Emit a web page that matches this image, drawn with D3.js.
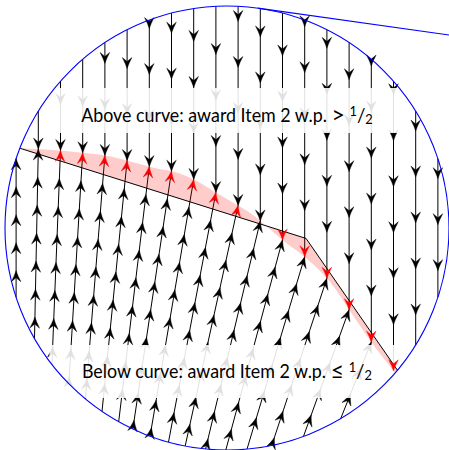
<!DOCTYPE html>
<html>
<head>
<meta charset="utf-8">
<script src="https://cdn.jsdelivr.net/npm/d3@7"></script>
<style>
  html, body { margin: 0; padding: 0; background: #fff; }
  svg { display: block; }
</style>
</head>
<body>
<svg id="chart" width="449" height="450"></svg>
<script>
// ---- Data (unit-disk coordinates) ----------------------------------------

// x positions of the streamline columns
const columnX = [-0.95, -0.85, -0.75, -0.65, -0.55, -0.45, -0.35, -0.25, -0.15, -0.05,
                  0.05,  0.15,  0.25,  0.35,  0.45,  0.55,  0.65,  0.75,  0.85,  0.95];

// tilt (horizontal drift per unit of rise) of the upward flow below the curve, per column
const lowerTilt = [0.00, 0.02, 0.04, 0.06, 0.08, 0.10, 0.12, 0.15, 0.17, 0.19,
                   0.22, 0.24, 0.27, 0.30, 0.33, 0.36, 0.40, 0.45];

// piecewise-linear allocation cutoff
const cutoffLine = [[-0.932, 0.359], [0.356, -0.047], [0.768, -0.641]];

// smooth boundary where the two flows meet
const boundaryCurve = [
  [-0.932, 0.359], [-0.842, 0.355], [-0.752, 0.349], [-0.662, 0.340], [-0.550, 0.327],
  [-0.459, 0.306], [-0.324, 0.270], [-0.234, 0.252], [-0.144, 0.216], [-0.054, 0.162],
  [0.023, 0.117], [0.104, 0.068], [0.171, 0.014], [0.261, -0.063], [0.356, -0.135],
  [0.464, -0.243], [0.554, -0.374], [0.653, -0.518], [0.757, -0.652]
];

// tangent point of the supporting line, degrees clockwise from the top of the disk
const tangentAngle = 8;

// region labels
const labelText = ["Above curve: award Item 2 w.p.", "Below curve: award Item 2 w.p."];
const labelRelation = [">", "\u2264"];
const labelFraction = ["1", "2"];

// ---- Layout ---------------------------------------------------------------
const W = 449, H = 450;
const x = d3.scaleLinear().domain([-1, 1]).range([5, 449]);
const y = d3.scaleLinear().domain([-1, 1]).range([450, 6]);
const px = d => [x(d[0]), y(d[1])];
const unit = x(1) - x(0);                 // pixels per data unit

const spacingUpper = 46 / unit;           // arrow spacing on the downward flow
const spacingLower = 28 / unit;           // arrow spacing on the upward flow
const edgeGap = 6 / unit;
const arrowLen = 11, arrowHalf = 4.8, arrowInset = 7;

const labelLayout = [
  { baseline: (228 - 122) / unit, box: [-0.80, (228 - 88) / unit, 0.80, (228 - 133) / unit] },
  { baseline: (228 - 378) / unit, box: [-0.80, (228 - 345) / unit, 0.80, (228 - 398) / unit] }
];
const labelWidth = 292;
const fontSize = 18.5;
const fontFamily = "Lato, 'DejaVu Sans', sans-serif";

const svg = d3.select("#chart");

// ---- Boundary sampling ------------------------------------------------------
const smoothGen = d3.line().x(d => x(d[0])).y(d => y(d[1])).curve(d3.curveCatmullRom.alpha(0.5));
const straightGen = d3.line().x(d => x(d[0])).y(d => y(d[1]));

const probe = svg.append("path").attr("d", smoothGen(boundaryCurve)).attr("fill", "none");
const probeNode = probe.node();
const probeLen = probeNode.getTotalLength();
const boundarySamples = d3.range(0, 1201).map(i => {
  const p = probeNode.getPointAtLength(probeLen * i / 1200);
  return [x.invert(p.x), y.invert(p.y)];
});
probe.remove();

function boundaryY(xd) {
  for (let i = 1; i < boundarySamples.length; i++) {
    const a = boundarySamples[i - 1], b = boundarySamples[i];
    if ((a[0] - xd) * (b[0] - xd) <= 0 && a[0] !== b[0]) {
      const t = (xd - a[0]) / (b[0] - a[0]);
      return a[1] + t * (b[1] - a[1]);
    }
  }
  return null;
}

// region between the smooth boundary and the cutoff
const bandPolygon = boundarySamples.map(px).concat(cutoffLine.slice().reverse().map(px));

const xStart = boundaryCurve[0][0];
const xEnd = boundaryCurve[boundaryCurve.length - 1][0];

// ---- Streamlines -------------------------------------------------------------
const lines = [];
const arrows = [];   // tip (data) + direction (data)

columnX.forEach((cx, k) => {
  const top = Math.sqrt(1 - cx * cx);

  // downward flow above the boundary
  if (cx >= xStart) {
    const onBoundary = cx <= xEnd;
    const bottom = onBoundary ? boundaryY(cx) : -top;
    lines.push([[cx, top], [cx, bottom]]);
    if (onBoundary) {
      for (let s = bottom; s <= top - edgeGap; s += spacingUpper) arrows.push({ tip: [cx, s], dir: [0, -1] });
    } else {
      for (let s = top - 20 / unit; s >= bottom + edgeGap; s -= spacingUpper) arrows.push({ tip: [cx, s], dir: [0, -1] });
    }
  }

  // upward flow below the boundary
  if (k < lowerTilt.length && cx <= xEnd) {
    const ey = cx < xStart ? top : boundaryY(cx);
    let vx = -lowerTilt[k], vy = -1;
    const n = Math.hypot(vx, vy); vx /= n; vy /= n;
    const b = cx * vx + ey * vy, c = cx * cx + ey * ey - 1;
    const len = -b + Math.sqrt(Math.max(0, b * b - c));
    if (len < arrowLen / unit) return;
    lines.push([[cx + len * vx, ey + len * vy], [cx, ey]]);
    for (let d = 0; d <= len - edgeGap; d += spacingLower) {
      arrows.push({ tip: [cx + d * vx, ey + d * vy], dir: [-vx, -vy] });
    }
  }
});

// classify arrowheads: red where the arrow body sits inside the band
arrows.forEach(a => {
  const t = px(a.tip);
  const ang = Math.atan2(-a.dir[1], a.dir[0]);
  a.px = t; a.ang = ang * 180 / Math.PI;
  const mid = [t[0] - 5.5 * Math.cos(ang), t[1] - 5.5 * Math.sin(ang)];
  a.inBand = d3.polygonContains(bandPolygon, mid);
});

const arrowPath = `M0,0 Q-5,-1.6 -${arrowLen},-${arrowHalf} L-${arrowInset},0 L-${arrowLen},${arrowHalf} Q-5,1.6 0,0 Z`;

// ---- Drawing ------------------------------------------------------------------
const gLines = svg.append("g");
gLines.selectAll("path").data(lines).join("path")
  .attr("d", d => straightGen(d))
  .attr("fill", "none").attr("stroke", "#000").attr("stroke-width", 1);

function drawArrows(sel, data, color) {
  sel.selectAll("path").data(data).join("path")
    .attr("d", arrowPath)
    .attr("transform", d => `translate(${d.px[0]},${d.px[1]}) rotate(${d.ang})`)
    .attr("fill", color).attr("stroke", color).attr("stroke-width", 0.4)
    .attr("stroke-linejoin", "round");
}
drawArrows(svg.append("g"), arrows.filter(a => !a.inBand), "#000");

// label backdrops
svg.append("g").selectAll("rect").data(labelLayout).join("rect")
  .attr("x", d => x(d.box[0])).attr("y", d => y(d.box[1]))
  .attr("width", d => x(d.box[2]) - x(d.box[0]))
  .attr("height", d => y(d.box[3]) - y(d.box[1]))
  .attr("fill", "#fff").attr("fill-opacity", 0.88);

// band between cutoff and boundary
svg.append("path")
  .attr("d", "M" + bandPolygon.map(p => p.join(",")).join("L") + "Z")
  .attr("fill", "red").attr("fill-opacity", 0.2).attr("fill-rule", "nonzero");

// cutoff
svg.append("path").attr("d", straightGen(cutoffLine))
  .attr("fill", "none").attr("stroke", "#000").attr("stroke-width", 1);

drawArrows(svg.append("g"), arrows.filter(a => a.inBand), "red");

// disk and supporting line
svg.append("circle").attr("cx", x(0)).attr("cy", y(0)).attr("r", unit)
  .attr("fill", "none").attr("stroke", "blue").attr("stroke-width", 1.1);

const th = tangentAngle * Math.PI / 180;
const tp = [Math.sin(th), Math.cos(th)];
const td = [Math.cos(th), -Math.sin(th)];
svg.append("path")
  .attr("d", straightGen([tp, [tp[0] + 1.5 * td[0], tp[1] + 1.5 * td[1]]]))
  .attr("fill", "none").attr("stroke", "blue").attr("stroke-width", 1.1);

// labels (horizontally condensed to the measured width)
const gText = svg.append("g");
function buildLabel(i, fs) {
  const g = gText.append("g");
  const t = g.append("text")
    .attr("x", 0).attr("y", y(labelLayout[i].baseline))
    .attr("text-anchor", "middle")
    .attr("font-family", fontFamily).attr("font-size", fs).attr("fill", "#000")
    .style("white-space", "pre");
  t.append("tspan").text(labelText[i] + " ");
  t.append("tspan").attr("font-size", fs * 1.3).attr("dy", fs * 0.04).text(labelRelation[i]);
  t.append("tspan").attr("dy", -fs * 0.04).text(" ");
  t.append("tspan").attr("font-size", fs * 0.72).attr("dy", -fs * 0.32).text(labelFraction[0]);
  t.append("tspan").attr("font-size", fs * 1.05).attr("dy", fs * 0.32).text("/");
  t.append("tspan").attr("font-size", fs * 0.72).attr("dy", fs * 0.1).text(labelFraction[1]);
  return g;
}
const probeLabel = buildLabel(0, fontSize);
const squeeze = labelWidth / probeLabel.select("text").node().getBBox().width;
probeLabel.remove();
labelText.forEach((_, i) => {
  buildLabel(i, fontSize).attr("transform", `translate(${x(0)},0) scale(${squeeze},1)`);
});
</script>
</body>
</html>
